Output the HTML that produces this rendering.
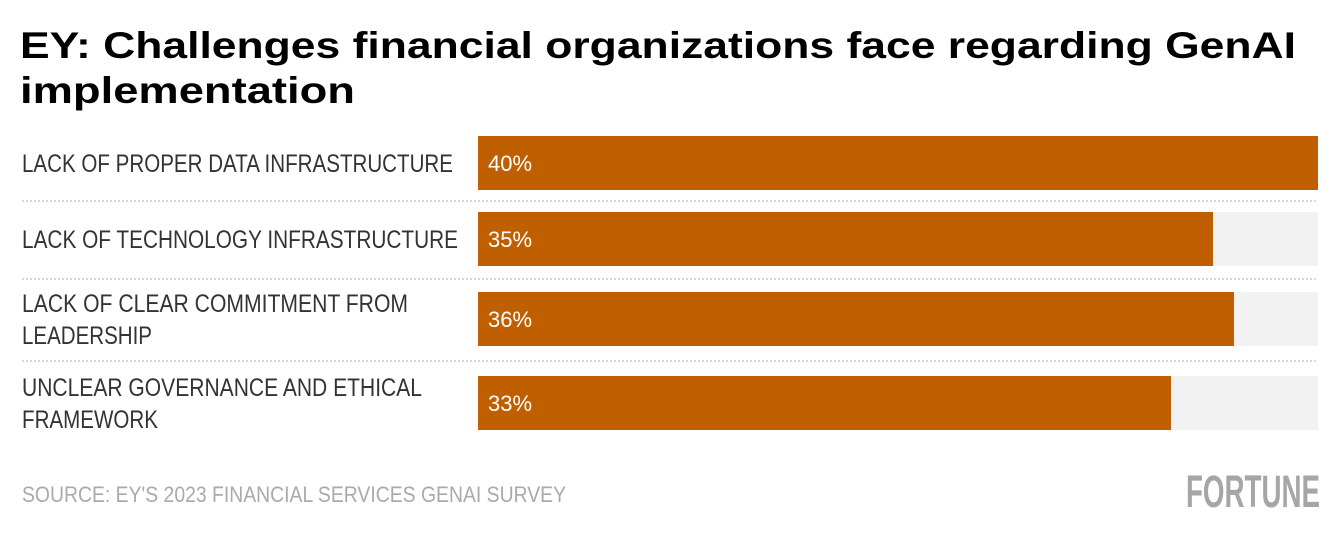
<!DOCTYPE html>
<html><head><meta charset="utf-8"><style>
html,body{margin:0;padding:0;background:#fff;}
svg{display:block;}
</style></head><body>
<svg width="1340" height="536" xmlns="http://www.w3.org/2000/svg" font-family="'Liberation Sans', sans-serif">
<text x="20" y="58" font-size="37" font-weight="bold" fill="#000" textLength="1276" lengthAdjust="spacingAndGlyphs">EY: Challenges financial organizations face regarding GenAI</text>
<text x="20" y="103" font-size="37" font-weight="bold" fill="#000" textLength="335" lengthAdjust="spacingAndGlyphs">implementation</text>
<g id="bars"></g>
<text x="22" y="502" font-size="22" fill="#aaa" textLength="544" lengthAdjust="spacingAndGlyphs">SOURCE: EY'S 2023 FINANCIAL SERVICES GENAI SURVEY</text>
<text x="1186" y="507" font-size="45" font-weight="bold" fill="#a6a6a6" textLength="134" lengthAdjust="spacingAndGlyphs">FORTUNE</text>
</svg>
<script>
const categories = [["LACK OF PROPER DATA INFRASTRUCTURE"],["LACK OF TECHNOLOGY INFRASTRUCTURE"],["LACK OF CLEAR COMMITMENT FROM","LEADERSHIP"],["UNCLEAR GOVERNANCE AND ETHICAL","FRAMEWORK"]];
const values = [40,35,36,33];
const valueLabels = ["40%","35%","36%","33%"];
const maxValue = 40;

const NS="http://www.w3.org/2000/svg";
const g=document.getElementById('bars');
const x0=478, plotW=840;
const barTops=[136,212,292,376], barH=54;
const xScale=v=>plotW*v/maxValue;
function mk(tag,attrs){const e=document.createElementNS(NS,tag);for(const k in attrs)e.setAttribute(k,attrs[k]);g.appendChild(e);return e;}
const labelWidths=[[431],[436],[386,130],[400,136]];
categories.forEach((lines,i)=>{
  const top=barTops[i];
  const bg=mk('rect',{x:x0,y:top,width:plotW,height:barH,fill:'#f2f2f2'});
  
  
  const r=mk('rect',{x:x0,y:top,width:xScale(values[i]),height:barH,fill:'#c05f00'});
  
  
  const vt=mk('text',{x:488,y:top+barH/2+8,'font-size':22,fill:'#fff'});
  vt.textContent=valueLabels[i];
  
  
  const mid=top+barH/2;
  const startY = lines.length===1 ? mid+9 : mid-7;
  lines.forEach((ln,j)=>{
    const t=mk('text',{x:22,y:startY+j*32,'font-size':25,fill:'#333',textLength:labelWidths[i][j],lengthAdjust:'spacingAndGlyphs'});
    t.textContent=ln;
    
    
  });
  if(i<categories.length-1){
    const sy=(top+barH+barTops[i+1])/2;
    const l=mk('line',{x1:22,x2:1318,y1:sy,y2:sy,stroke:'#ccc','stroke-width':1.5,'stroke-dasharray':'2 2'});
    
    
  }
});
</script>
</body></html>
